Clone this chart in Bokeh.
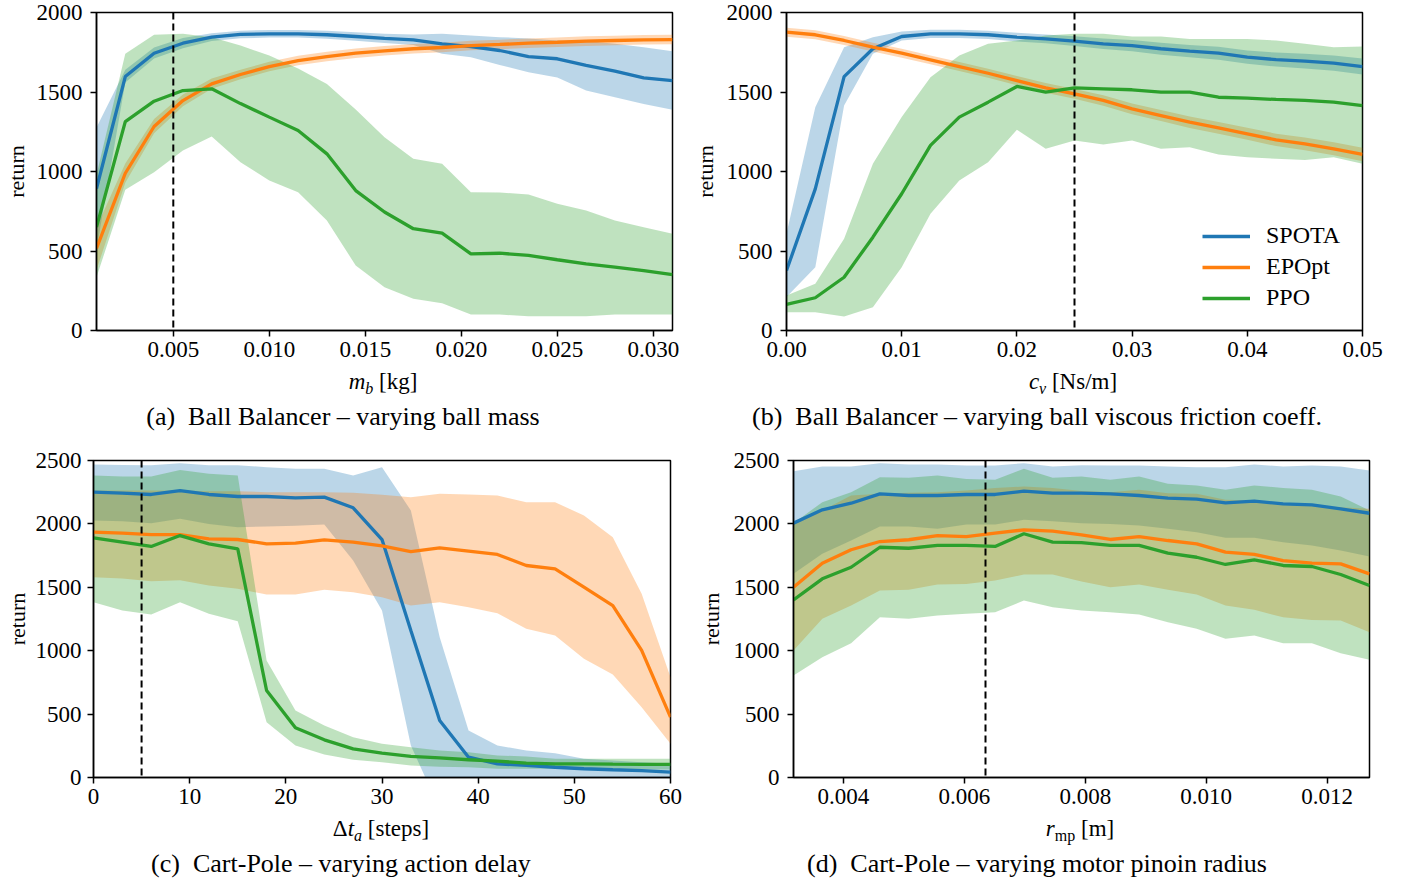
from bokeh.plotting import figure
from bokeh.models import Range1d, FixedTicker, PrintfTickFormatter, Span, Legend, LegendItem, Div
from bokeh.layouts import column, row
from bokeh.embed import file_html
from bokeh.resources import INLINE

BLUE, ORANGE, GREEN = "#1f77b4", "#ff7f0e", "#2ca02c"
SERIF = "Liberation Serif"

# ---------------- (a) Ball Balancer - ball mass ----------------
A_x = [0.001, 0.0025, 0.004, 0.0055, 0.007, 0.0085, 0.01, 0.0115, 0.013, 0.0145, 0.016,
       0.0175, 0.019, 0.0205, 0.022, 0.0235, 0.025, 0.0265, 0.028, 0.0295, 0.031]
A_spota = [893, 1597, 1744, 1807, 1845, 1862, 1866, 1866, 1860, 1849, 1837, 1828, 1803, 1786, 1761, 1723, 1709, 1667, 1631, 1589, 1572]
A_spota_lo = [510, 1560, 1710, 1775, 1820, 1838, 1842, 1842, 1835, 1822, 1808, 1795, 1740, 1719, 1670, 1624, 1591, 1509, 1467, 1425, 1388]
A_spota_hi = [1277, 1640, 1780, 1840, 1870, 1886, 1890, 1890, 1885, 1876, 1866, 1861, 1866, 1855, 1845, 1837, 1824, 1820, 1803, 1782, 1757]
A_epopt = [516, 989, 1283, 1446, 1551, 1610, 1660, 1698, 1723, 1744, 1759, 1772, 1780, 1792, 1799, 1807, 1813, 1820, 1824, 1828, 1830]
A_epopt_lo = [380, 930, 1240, 1410, 1520, 1580, 1630, 1668, 1693, 1714, 1729, 1742, 1750, 1762, 1769, 1777, 1783, 1790, 1794, 1798, 1800]
A_epopt_hi = [650, 1050, 1330, 1485, 1585, 1640, 1690, 1728, 1753, 1774, 1789, 1802, 1810, 1822, 1829, 1837, 1843, 1850, 1854, 1858, 1860]
A_ppo = [650, 1314, 1442, 1509, 1520, 1427, 1342, 1258, 1111, 880, 745, 640, 612, 482, 486, 472, 445, 419, 398, 377, 352]
A_ppo_lo = [335, 885, 996, 1132, 1220, 1058, 943, 870, 692, 409, 272, 199, 172, 101, 100, 90, 90, 90, 100, 101, 100]
A_ppo_hi = [980, 1740, 1860, 1866, 1845, 1792, 1730, 1648, 1551, 1390, 1216, 1080, 1048, 870, 868, 855, 797, 755, 692, 650, 608]
A_nominal = 0.005
A_xticks = [0.005, 0.010, 0.015, 0.020, 0.025, 0.030]

# ---------------- (b) Ball Balancer - viscous friction ----------------
B_x = [0.0, 0.0025, 0.005, 0.0075, 0.01, 0.0125, 0.015, 0.0175, 0.02, 0.0225, 0.025,
       0.0275, 0.03, 0.0325, 0.035, 0.0375, 0.04, 0.0425, 0.045, 0.0475, 0.05]
B_spota = [377, 891, 1597, 1772, 1849, 1866, 1866, 1860, 1845, 1834, 1820, 1803, 1792, 1772, 1757, 1744, 1719, 1704, 1694, 1681, 1660]
B_spota_lo = [210, 398, 1415, 1740, 1824, 1840, 1840, 1834, 1818, 1806, 1790, 1770, 1757, 1735, 1718, 1703, 1677, 1660, 1648, 1633, 1610]
B_spota_hi = [610, 1404, 1782, 1845, 1880, 1892, 1892, 1886, 1872, 1862, 1850, 1836, 1827, 1809, 1796, 1785, 1761, 1748, 1740, 1729, 1710]
B_epopt = [1876, 1860, 1824, 1782, 1744, 1702, 1660, 1618, 1572, 1526, 1488, 1447, 1394, 1352, 1310, 1275, 1237, 1199, 1174, 1143, 1107]
B_epopt_lo = [1848, 1832, 1796, 1754, 1716, 1674, 1632, 1590, 1543, 1496, 1457, 1414, 1360, 1317, 1274, 1238, 1199, 1160, 1134, 1102, 1065]
B_epopt_hi = [1904, 1888, 1852, 1810, 1772, 1730, 1688, 1646, 1601, 1556, 1519, 1480, 1428, 1387, 1346, 1312, 1275, 1238, 1214, 1184, 1149]
B_ppo = [164, 206, 335, 587, 860, 1164, 1342, 1436, 1535, 1499, 1526, 1520, 1514, 1499, 1499, 1467, 1461, 1453, 1447, 1436, 1415]
B_ppo_lo = [115, 115, 88, 147, 398, 734, 943, 1058, 1262, 1143, 1195, 1170, 1195, 1143, 1153, 1107, 1090, 1080, 1073, 1090, 1048]
B_ppo_hi = [220, 294, 577, 1048, 1342, 1593, 1730, 1803, 1824, 1855, 1866, 1866, 1849, 1849, 1834, 1834, 1834, 1824, 1803, 1782, 1786]
B_nominal = 0.025
B_xticks = [0.00, 0.01, 0.02, 0.03, 0.04, 0.05]

# ---------------- (c) Cart-Pole - action delay ----------------
C_x = [0, 3, 6, 9, 12, 15, 18, 21, 24, 27, 30, 33, 36, 39, 42, 45, 48, 51, 54, 57, 60]
C_spota = [2250, 2242, 2232, 2263, 2232, 2216, 2216, 2206, 2211, 2127, 1876, 1159, 449, 160, 108, 95, 81, 69, 61, 55, 42]
C_spota_lo = [2027, 2020, 2005, 2040, 2000, 1974, 1980, 1985, 1995, 1711, 1317, 252, -250, -50, -36, -23, -30, -9, -13, -10, -24]
C_spota_hi = [2468, 2465, 2463, 2479, 2463, 2463, 2447, 2434, 2434, 2382, 2447, 2106, 1106, 371, 252, 213, 192, 147, 135, 120, 108]
C_epopt = [1935, 1927, 1916, 1916, 1882, 1877, 1843, 1848, 1874, 1856, 1826, 1782, 1811, 1785, 1759, 1672, 1646, 1501, 1356, 1002, 476]
C_epopt_lo = [1580, 1570, 1548, 1555, 1514, 1488, 1443, 1443, 1480, 1461, 1422, 1356, 1383, 1343, 1296, 1173, 1120, 936, 812, 554, 266]
C_epopt_hi = [2263, 2263, 2263, 2263, 2258, 2258, 2250, 2250, 2250, 2245, 2230, 2210, 2237, 2232, 2224, 2171, 2171, 2066, 1895, 1449, 791]
C_ppo = [1890, 1856, 1822, 1908, 1843, 1803, 686, 392, 297, 226, 192, 166, 155, 140, 129, 113, 108, 108, 105, 103, 103]
C_ppo_lo = [1383, 1317, 1285, 1383, 1291, 1233, 436, 252, 181, 140, 121, 95, 85, 80, 69, 69, 69, 69, 66, 63, 63]
C_ppo_hi = [2382, 2374, 2374, 2426, 2395, 2382, 923, 528, 410, 318, 266, 239, 213, 200, 174, 165, 147, 147, 147, 147, 147]
C_nominal = 5
C_xticks = [0, 10, 20, 30, 40, 50, 60]

# ---------------- (d) Cart-Pole - motor pinion radius ----------------
D_x = [0.003175, 0.00365125, 0.0041275, 0.00460375, 0.00508, 0.00555625, 0.0060325,
       0.00650875, 0.006985, 0.00746125, 0.0079375, 0.00841375, 0.00889, 0.00936625,
       0.0098425, 0.01031875, 0.010795, 0.01127125, 0.0117475, 0.01222375, 0.0127]
D_spota = [2006, 2111, 2163, 2237, 2224, 2224, 2232, 2232, 2258, 2242, 2242, 2237, 2224, 2203, 2195, 2166, 2179, 2158, 2150, 2119, 2084]
D_spota_lo = [1606, 1764, 1869, 1979, 1979, 1961, 1995, 1995, 2032, 2021, 2006, 2000, 1987, 1961, 1935, 1890, 1890, 1856, 1830, 1790, 1743]
D_spota_hi = [2416, 2453, 2453, 2479, 2468, 2468, 2460, 2460, 2479, 2453, 2463, 2460, 2460, 2453, 2447, 2447, 2468, 2453, 2460, 2453, 2421]
D_epopt = [1501, 1690, 1796, 1861, 1875, 1908, 1900, 1927, 1953, 1943, 1914, 1877, 1900, 1869, 1843, 1777, 1759, 1711, 1690, 1685, 1606]
D_epopt_lo = [1001, 1251, 1356, 1475, 1480, 1522, 1527, 1553, 1601, 1601, 1546, 1501, 1522, 1480, 1443, 1356, 1322, 1264, 1243, 1238, 1146]
D_epopt_hi = [2006, 2106, 2224, 2237, 2245, 2250, 2263, 2284, 2295, 2284, 2260, 2250, 2269, 2242, 2237, 2190, 2184, 2158, 2145, 2132, 2119]
D_ppo = [1401, 1567, 1658, 1816, 1808, 1830, 1830, 1822, 1922, 1856, 1852, 1830, 1830, 1769, 1737, 1680, 1717, 1672, 1664, 1601, 1514]
D_ppo_lo = [804, 949, 1059, 1264, 1251, 1277, 1291, 1304, 1396, 1343, 1317, 1304, 1285, 1225, 1173, 1094, 1120, 1059, 1059, 980, 928]
D_ppo_hi = [2006, 2171, 2250, 2368, 2363, 2382, 2355, 2348, 2434, 2363, 2374, 2348, 2374, 2316, 2303, 2269, 2303, 2284, 2269, 2216, 2106]
D_nominal = 0.00635
D_xticks = [0.004, 0.006, 0.008, 0.010, 0.012]

ALGOS = ["SPOTA", "EPOpt", "PPO"]
Y_LABEL = "return"
X_LABELS = [
    "<i>m</i><span style='font-size:16px;position:relative;top:5px;'><i>b</i></span>&nbsp;[kg]",
    "<i>c</i><span style='font-size:16px;position:relative;top:5px;'><i>v</i></span>&nbsp;[Ns/m]",
    "&Delta;<i>t</i><span style='font-size:16px;position:relative;top:5px;'><i>a</i></span>&nbsp;[steps]",
    "<i>r</i><span style='font-size:16px;position:relative;top:5px;'>mp</span>&nbsp;[m]",
]
CAPTIONS = [
    "(a)&nbsp;&nbsp;Ball Balancer &ndash; varying ball mass",
    "(b)&nbsp;&nbsp;Ball Balancer &ndash; varying ball viscous friction coeff.",
    "(c)&nbsp;&nbsp;Cart-Pole &ndash; varying action delay",
    "(d)&nbsp;&nbsp;Cart-Pole &ndash; varying motor pinoin radius",
]


def make_panel(xs, series, xr, yr, xticks, yticks, fmt, nominal, width, height, ml, mr, mt, mb,
               ytick_standoff, ylab_standoff):
    p = figure(width=width, height=height, x_range=Range1d(*xr), y_range=Range1d(*yr),
               output_backend="svg", toolbar_location=None, title=None,
               min_border_left=ml, min_border_right=mr, min_border_top=mt, min_border_bottom=mb)
    p.xgrid.visible = False
    p.ygrid.visible = False
    p.outline_line_color = "black"
    p.outline_line_width = 1.5
    p.outline_line_alpha = 1
    p.background_fill_color = "white"
    p.border_fill_color = "white"
    p.xaxis.ticker = FixedTicker(ticks=xticks)
    p.xaxis.formatter = PrintfTickFormatter(format=fmt)
    p.yaxis.ticker = FixedTicker(ticks=yticks)
    for ax in [p.xaxis[0], p.yaxis[0]]:
        ax.axis_line_width = 1.5
        ax.axis_line_color = "black"
        ax.major_tick_line_width = 1.5
        ax.major_tick_line_color = "black"
        ax.major_tick_out = 6
        ax.major_tick_in = 0
        ax.minor_tick_out = 0
        ax.minor_tick_in = 0
        ax.major_label_text_font = SERIF
        ax.major_label_text_font_size = "23px"
        ax.major_label_text_color = "black"
    p.xaxis.major_label_standoff = 5
    p.yaxis.major_label_standoff = ytick_standoff
    p.yaxis.axis_label = Y_LABEL
    p.yaxis.axis_label_text_font = SERIF
    p.yaxis.axis_label_text_font_size = "22px"
    p.yaxis.axis_label_text_font_style = "normal"
    p.yaxis.axis_label_text_color = "black"
    p.yaxis.axis_label_standoff = ylab_standoff

    colors = [BLUE, ORANGE, GREEN]
    for (mean, lo, hi), c in zip(series, colors):
        p.varea(x=xs, y1=lo, y2=hi, fill_color=c, fill_alpha=0.3)
    lines = []
    for (mean, lo, hi), c in zip(series, colors):
        lines.append(p.line(xs, mean, line_color=c, line_width=3.3))
    p.add_layout(Span(location=nominal, dimension="height", line_color="black",
                      line_width=2, line_dash="7 4"))
    return p, lines


def text_div(html, width, height, cx, top, line_h, size):
    inner = (f"<div style=\"position:relative;width:{width}px;height:{height}px;"
             f"font-family:'{SERIF}';color:black;\">"
             f"<div style=\"position:absolute;left:{cx - 350}px;width:700px;top:{top}px;"
             f"line-height:{line_h}px;text-align:center;font-size:{size}px;white-space:nowrap;\">"
             f"{html}</div></div>")
    return Div(text=inner, width=width, height=height, margin=0)


WL, WR = 688, 699

pa, _ = make_panel(A_x, [(A_spota, A_spota_lo, A_spota_hi), (A_epopt, A_epopt_lo, A_epopt_hi),
                         (A_ppo, A_ppo_lo, A_ppo_hi)],
                   (0.001, 0.031), (0, 2000), A_xticks, [0, 500, 1000, 1500, 2000], "%.3f", A_nominal,
                   WL, 368, 96, 16, 12, 38, 8, 5)
pb, lines_b = make_panel(B_x, [(B_spota, B_spota_lo, B_spota_hi), (B_epopt, B_epopt_lo, B_epopt_hi),
                               (B_ppo, B_ppo_lo, B_ppo_hi)],
                         (0.0, 0.05), (0, 2000), B_xticks, [0, 500, 1000, 1500, 2000], "%.2f", B_nominal,
                         WR, 368, 98, 25, 12, 38, 8, 6)
pc, _ = make_panel(C_x, [(C_spota, C_spota_lo, C_spota_hi), (C_epopt, C_epopt_lo, C_epopt_hi),
                         (C_ppo, C_ppo_lo, C_ppo_hi)],
                   (0, 60), (0, 2500), C_xticks, [0, 500, 1000, 1500, 2000, 2500], "%d", C_nominal,
                   WL, 367, 93, 18, 12, 38, 6, 3)
pd_, _ = make_panel(D_x, [(D_spota, D_spota_lo, D_spota_hi), (D_epopt, D_epopt_lo, D_epopt_hi),
                          (D_ppo, D_ppo_lo, D_ppo_hi)],
                    (0.003175, 0.0127), (0, 2500), D_xticks, [0, 500, 1000, 1500, 2000, 2500], "%.3f", D_nominal,
                    WR, 367, 105, 18, 12, 38, 8, 7)

legend = Legend(items=[LegendItem(label=n, renderers=[r]) for n, r in zip(ALGOS, lines_b)],
                location=(416, 19), padding=0, margin=0, spacing=4,
                glyph_width=48, glyph_height=22, label_height=22, label_standoff=16,
                label_text_font=SERIF, label_text_font_size="24px", label_text_color="black",
                border_line_alpha=0, background_fill_alpha=0)
pb.add_layout(legend)

xl_a = text_div(X_LABELS[0], WL, 28, 383, 0, 28, 23)
xl_b = text_div(X_LABELS[1], WR, 28, 385, 0, 28, 23)
cap_a = text_div(CAPTIONS[0], WL, 52, 343, 8, 26, 26)
cap_b = text_div(CAPTIONS[1], WR, 52, 349, 8, 26, 26)
xl_c = text_div(X_LABELS[2], WL, 28, 381, 0, 28, 23)
xl_d = text_div(X_LABELS[3], WR, 28, 392, 0, 28, 23)
cap_c = text_div(CAPTIONS[2], WL, 34, 341, 8, 26, 26)
cap_d = text_div(CAPTIONS[3], WR, 34, 349, 8, 26, 26)

layout = column(row(pa, pb), row(xl_a, xl_b), row(cap_a, cap_b),
                row(pc, pd_), row(xl_c, xl_d), row(cap_c, cap_d))
open("out.html", "w").write(file_html(layout, INLINE))
